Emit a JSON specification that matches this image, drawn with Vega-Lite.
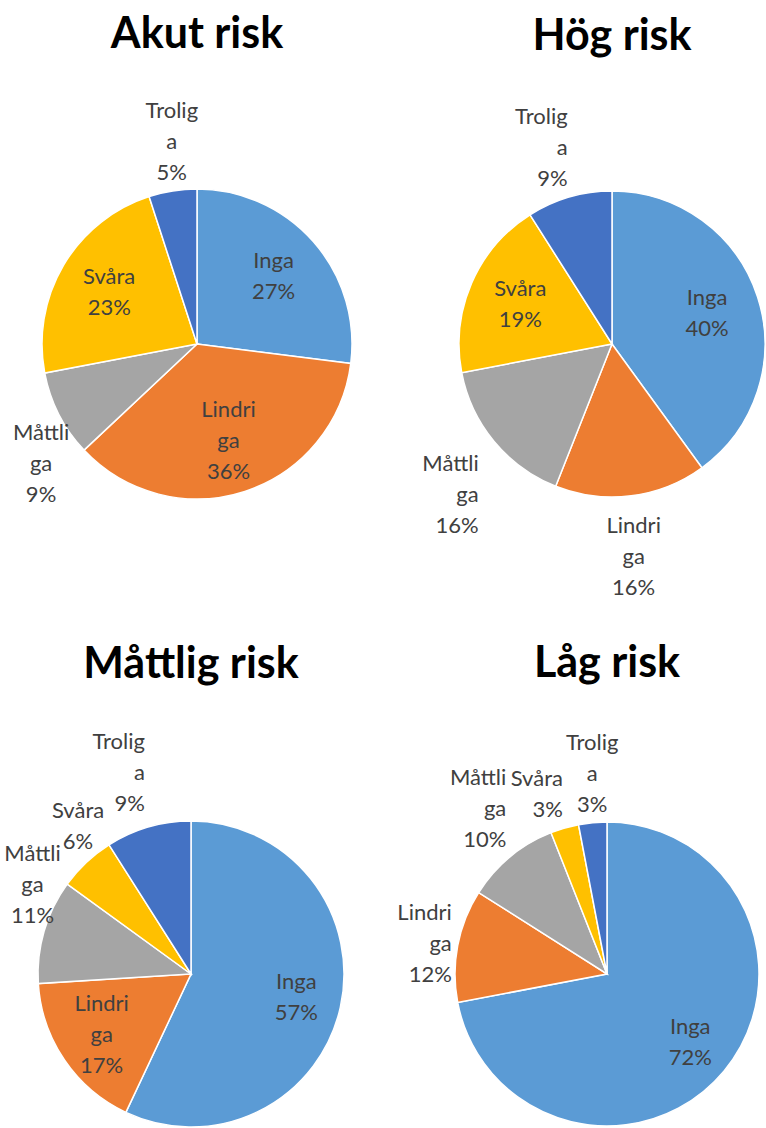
{
  "$schema": "https://vega.github.io/schema/vega-lite/v6.json",
  "background": "white",
  "padding": {"top": 13, "left": 0, "right": 0, "bottom": 0},
  "config": {
    "view": {"stroke": null},
    "font": "Lato",
    "title": {"font": "Lato", "fontSize": 43, "fontWeight": "bold", "color": "#000000", "anchor": "middle", "baseline": "alphabetic", "frame": "group"},
    "text": {"font": "Lato", "fontSize": 22, "lineHeight": 31, "color": "#404040", "lineBreak": "\n"},
    "arc": {"stroke": "#ffffff", "strokeWidth": 1.5}
  },
  "data": {
    "values": [
      {"panel": "Akut risk", "category": "Inga", "value": 27},
      {"panel": "Akut risk", "category": "Lindriga", "value": 36},
      {"panel": "Akut risk", "category": "Måttliga", "value": 9},
      {"panel": "Akut risk", "category": "Svåra", "value": 23},
      {"panel": "Akut risk", "category": "Troliga", "value": 5},
      {"panel": "Hög risk", "category": "Inga", "value": 40},
      {"panel": "Hög risk", "category": "Lindriga", "value": 16},
      {"panel": "Hög risk", "category": "Måttliga", "value": 16},
      {"panel": "Hög risk", "category": "Svåra", "value": 19},
      {"panel": "Hög risk", "category": "Troliga", "value": 9},
      {"panel": "Måttlig risk", "category": "Inga", "value": 57},
      {"panel": "Måttlig risk", "category": "Lindriga", "value": 17},
      {"panel": "Måttlig risk", "category": "Måttliga", "value": 11},
      {"panel": "Måttlig risk", "category": "Svåra", "value": 6},
      {"panel": "Måttlig risk", "category": "Troliga", "value": 9},
      {"panel": "Låg risk", "category": "Inga", "value": 72},
      {"panel": "Låg risk", "category": "Lindriga", "value": 12},
      {"panel": "Låg risk", "category": "Måttliga", "value": 10},
      {"panel": "Låg risk", "category": "Svåra", "value": 3},
      {"panel": "Låg risk", "category": "Troliga", "value": 3}
    ]
  },
  "bounds": "flush",
  "spacing": 632,
  "vconcat": [
    {
      "bounds": "flush",
      "spacing": 65,
      "hconcat": [
        {
          "width": 394, "height": 310,
          "title": {"text": "Akut risk", "offset": 43},
          "transform": [
            {"filter": "datum.panel === 'Akut risk'"},
            {"stack": "value", "groupby": ["panel"], "sort": [{"field": "category", "order": "ascending"}], "as": ["v0", "v1"]},
            {"calculate": "(datum.v0 + datum.v1) / 2", "as": "mid"},
            {"calculate": "2 * PI * datum.mid / 100", "as": "angle"},
            {"calculate": "datum.category === 'Inga' || datum.category === 'Svåra' ? 2 : 3", "as": "nlines"},
            {"calculate": "(datum.nlines === 2 ? datum.category : slice(datum.category, 0, 6) + '\\n' + slice(datum.category, 6)) + '\\n' + datum.value + '%'", "as": "label"}
          ],
          "layer": [
            {
              "mark": {"type": "arc", "outerRadius": 155},
              "encoding": {
                "theta": {"field": "v0", "type": "quantitative", "stack": null, "scale": {"domain": [0, 100]}},
                "theta2": {"field": "v1"},
                "color": {"field": "category", "type": "nominal", "legend": null,
                  "scale": {"domain": ["Inga", "Lindriga", "Måttliga", "Svåra", "Troliga"], "range": ["#5B9BD5", "#ED7D31", "#A5A5A5", "#FFC000", "#4472C4"]}}
              }
            },
            {
              "transform": [{"filter": "datum.value >= 17"}],
              "mark": {"type": "text", "radius": 102, "dy": {"expr": "-(datum.nlines - 1) * 31 / 2"}},
              "encoding": {
                "theta": {"field": "mid", "type": "quantitative", "stack": null, "scale": {"domain": [0, 100]}},
                "text": {"field": "label", "type": "nominal"}
              }
            },
            {
              "transform": [{"filter": "datum.value < 17 && cos(datum.angle) >= -0.25"}],
              "mark": {"type": "text", "radius": 161,
                "baseline": {"expr": "cos(datum.angle) > 0.25 ? 'bottom' : 'middle'"},
                "dy": {"expr": "cos(datum.angle) > 0.25 ? -(datum.nlines - 1) * 31 : -(datum.nlines - 1) * 31 / 2"},
                "align": {"expr": "cos(datum.angle) <= 0.25 ? (sin(datum.angle) < 0 ? 'right' : 'left') : (sin(datum.angle) < -0.2 && sin(datum.angle) > -0.66) ? 'right' : (sin(datum.angle) > 0.2 && sin(datum.angle) < 0.66) ? 'left' : 'center'"}},
              "encoding": {
                "theta": {"field": "mid", "type": "quantitative", "stack": null, "scale": {"domain": [0, 100]}},
                "text": {"field": "label", "type": "nominal"}
              }
            },
            {
              "transform": [{"filter": "datum.value < 17 && cos(datum.angle) < -0.25"}],
              "mark": {"type": "text", "radius": 175, "baseline": "top",
                "align": {"expr": "(sin(datum.angle) < -0.2 && sin(datum.angle) > -0.8) ? 'right' : (sin(datum.angle) > 0.2 && sin(datum.angle) < 0.8) ? 'left' : 'center'"}},
              "encoding": {
                "theta": {"field": "mid", "type": "quantitative", "stack": null, "scale": {"domain": [0, 100]}},
                "text": {"field": "label", "type": "nominal"}
              }
            }
          ]
        },
        {
          "width": 306, "height": 310,
          "title": {"text": "Hög risk", "offset": 47},
          "transform": [
            {"filter": "datum.panel === 'Hög risk'"},
            {"stack": "value", "groupby": ["panel"], "sort": [{"field": "category", "order": "ascending"}], "as": ["v0", "v1"]},
            {"calculate": "(datum.v0 + datum.v1) / 2", "as": "mid"},
            {"calculate": "2 * PI * datum.mid / 100", "as": "angle"},
            {"calculate": "datum.category === 'Inga' || datum.category === 'Svåra' ? 2 : 3", "as": "nlines"},
            {"calculate": "(datum.nlines === 2 ? datum.category : slice(datum.category, 0, 6) + '\\n' + slice(datum.category, 6)) + '\\n' + datum.value + '%'", "as": "label"}
          ],
          "layer": [
            {
              "mark": {"type": "arc", "outerRadius": 153},
              "encoding": {
                "theta": {"field": "v0", "type": "quantitative", "stack": null, "scale": {"domain": [0, 100]}},
                "theta2": {"field": "v1"},
                "color": {"field": "category", "type": "nominal", "legend": null,
                  "scale": {"domain": ["Inga", "Lindriga", "Måttliga", "Svåra", "Troliga"], "range": ["#5B9BD5", "#ED7D31", "#A5A5A5", "#FFC000", "#4472C4"]}}
              }
            },
            {
              "transform": [{"filter": "datum.value >= 17"}],
              "mark": {"type": "text", "radius": 100, "dy": {"expr": "-(datum.nlines - 1) * 31 / 2"}},
              "encoding": {
                "theta": {"field": "mid", "type": "quantitative", "stack": null, "scale": {"domain": [0, 100]}},
                "text": {"field": "label", "type": "nominal"}
              }
            },
            {
              "transform": [{"filter": "datum.value < 17 && cos(datum.angle) >= -0.25"}],
              "mark": {"type": "text", "radius": 159,
                "baseline": {"expr": "cos(datum.angle) > 0.25 ? 'bottom' : 'middle'"},
                "dy": {"expr": "cos(datum.angle) > 0.25 ? -(datum.nlines - 1) * 31 : -(datum.nlines - 1) * 31 / 2"},
                "align": {"expr": "cos(datum.angle) <= 0.25 ? (sin(datum.angle) < 0 ? 'right' : 'left') : (sin(datum.angle) < -0.2 && sin(datum.angle) > -0.66) ? 'right' : (sin(datum.angle) > 0.2 && sin(datum.angle) < 0.66) ? 'left' : 'center'"}},
              "encoding": {
                "theta": {"field": "mid", "type": "quantitative", "stack": null, "scale": {"domain": [0, 100]}},
                "text": {"field": "label", "type": "nominal"}
              }
            },
            {
              "transform": [{"filter": "datum.value < 17 && cos(datum.angle) < -0.25"}],
              "mark": {"type": "text", "radius": 173, "baseline": "top",
                "align": {"expr": "(sin(datum.angle) < -0.2 && sin(datum.angle) > -0.8) ? 'right' : (sin(datum.angle) > 0.2 && sin(datum.angle) < 0.8) ? 'left' : 'center'"}},
              "encoding": {
                "theta": {"field": "mid", "type": "quantitative", "stack": null, "scale": {"domain": [0, 100]}},
                "text": {"field": "label", "type": "nominal"}
              }
            }
          ]
        }
      ]
    },
    {
      "bounds": "flush",
      "spacing": 72,
      "hconcat": [
        {
          "width": 382, "height": 306,
          "title": {"text": "Måttlig risk", "offset": 44},
          "transform": [
            {"filter": "datum.panel === 'Måttlig risk'"},
            {"stack": "value", "groupby": ["panel"], "sort": [{"field": "category", "order": "ascending"}], "as": ["v0", "v1"]},
            {"calculate": "(datum.v0 + datum.v1) / 2", "as": "mid"},
            {"calculate": "2 * PI * datum.mid / 100", "as": "angle"},
            {"calculate": "datum.category === 'Inga' || datum.category === 'Svåra' ? 2 : 3", "as": "nlines"},
            {"calculate": "(datum.nlines === 2 ? datum.category : slice(datum.category, 0, 6) + '\\n' + slice(datum.category, 6)) + '\\n' + datum.value + '%'", "as": "label"}
          ],
          "layer": [
            {
              "mark": {"type": "arc", "outerRadius": 153},
              "encoding": {
                "theta": {"field": "v0", "type": "quantitative", "stack": null, "scale": {"domain": [0, 100]}},
                "theta2": {"field": "v1"},
                "color": {"field": "category", "type": "nominal", "legend": null,
                  "scale": {"domain": ["Inga", "Lindriga", "Måttliga", "Svåra", "Troliga"], "range": ["#5B9BD5", "#ED7D31", "#A5A5A5", "#FFC000", "#4472C4"]}}
              }
            },
            {
              "transform": [{"filter": "datum.value >= 17"}],
              "mark": {"type": "text", "radius": 108, "dy": {"expr": "-(datum.nlines - 1) * 31 / 2"}},
              "encoding": {
                "theta": {"field": "mid", "type": "quantitative", "stack": null, "scale": {"domain": [0, 100]}},
                "text": {"field": "label", "type": "nominal"}
              }
            },
            {
              "transform": [{"filter": "datum.value < 17 && cos(datum.angle) >= -0.25"}],
              "mark": {"type": "text", "radius": 165,
                "baseline": {"expr": "cos(datum.angle) > 0.25 ? 'bottom' : 'middle'"},
                "dy": {"expr": "cos(datum.angle) > 0.25 ? -(datum.nlines - 1) * 31 : -(datum.nlines - 1) * 31 / 2"},
                "align": {"expr": "cos(datum.angle) <= 0.25 ? (sin(datum.angle) < 0 ? 'right' : 'left') : (sin(datum.angle) < -0.2 && sin(datum.angle) > -0.66) ? 'right' : (sin(datum.angle) > 0.2 && sin(datum.angle) < 0.66) ? 'left' : 'center'"}},
              "encoding": {
                "theta": {"field": "mid", "type": "quantitative", "stack": null, "scale": {"domain": [0, 100]}},
                "text": {"field": "label", "type": "nominal"}
              }
            },
            {
              "transform": [{"filter": "datum.value < 17 && cos(datum.angle) < -0.25"}],
              "mark": {"type": "text", "radius": 173, "baseline": "top",
                "align": {"expr": "(sin(datum.angle) < -0.2 && sin(datum.angle) > -0.8) ? 'right' : (sin(datum.angle) > 0.2 && sin(datum.angle) < 0.8) ? 'left' : 'center'"}},
              "encoding": {
                "theta": {"field": "mid", "type": "quantitative", "stack": null, "scale": {"domain": [0, 100]}},
                "text": {"field": "label", "type": "nominal"}
              }
            }
          ]
        },
        {
          "width": 306, "height": 306,
          "title": {"text": "Låg risk", "offset": 46},
          "transform": [
            {"filter": "datum.panel === 'Låg risk'"},
            {"stack": "value", "groupby": ["panel"], "sort": [{"field": "category", "order": "ascending"}], "as": ["v0", "v1"]},
            {"calculate": "(datum.v0 + datum.v1) / 2", "as": "mid"},
            {"calculate": "2 * PI * datum.mid / 100", "as": "angle"},
            {"calculate": "datum.category === 'Inga' || datum.category === 'Svåra' ? 2 : 3", "as": "nlines"},
            {"calculate": "(datum.nlines === 2 ? datum.category : slice(datum.category, 0, 6) + '\\n' + slice(datum.category, 6)) + '\\n' + datum.value + '%'", "as": "label"}
          ],
          "layer": [
            {
              "mark": {"type": "arc", "outerRadius": 152},
              "encoding": {
                "theta": {"field": "v0", "type": "quantitative", "stack": null, "scale": {"domain": [0, 100]}},
                "theta2": {"field": "v1"},
                "color": {"field": "category", "type": "nominal", "legend": null,
                  "scale": {"domain": ["Inga", "Lindriga", "Måttliga", "Svåra", "Troliga"], "range": ["#5B9BD5", "#ED7D31", "#A5A5A5", "#FFC000", "#4472C4"]}}
              }
            },
            {
              "transform": [{"filter": "datum.value >= 17"}],
              "mark": {"type": "text", "radius": 108, "dy": {"expr": "-(datum.nlines - 1) * 31 / 2"}},
              "encoding": {
                "theta": {"field": "mid", "type": "quantitative", "stack": null, "scale": {"domain": [0, 100]}},
                "text": {"field": "label", "type": "nominal"}
              }
            },
            {
              "transform": [{"filter": "datum.value < 17 && cos(datum.angle) >= -0.25"}],
              "mark": {"type": "text", "radius": 158,
                "baseline": {"expr": "cos(datum.angle) > 0.25 ? 'bottom' : 'middle'"},
                "dy": {"expr": "cos(datum.angle) > 0.25 ? -(datum.nlines - 1) * 31 : -(datum.nlines - 1) * 31 / 2"},
                "align": {"expr": "cos(datum.angle) <= 0.25 ? (sin(datum.angle) < 0 ? 'right' : 'left') : (sin(datum.angle) < -0.2 && sin(datum.angle) > -0.66) ? 'right' : (sin(datum.angle) > 0.2 && sin(datum.angle) < 0.66) ? 'left' : 'center'"}},
              "encoding": {
                "theta": {"field": "mid", "type": "quantitative", "stack": null, "scale": {"domain": [0, 100]}},
                "text": {"field": "label", "type": "nominal"}
              }
            },
            {
              "transform": [{"filter": "datum.value < 17 && cos(datum.angle) < -0.25"}],
              "mark": {"type": "text", "radius": 172, "baseline": "top",
                "align": {"expr": "(sin(datum.angle) < -0.2 && sin(datum.angle) > -0.8) ? 'right' : (sin(datum.angle) > 0.2 && sin(datum.angle) < 0.8) ? 'left' : 'center'"}},
              "encoding": {
                "theta": {"field": "mid", "type": "quantitative", "stack": null, "scale": {"domain": [0, 100]}},
                "text": {"field": "label", "type": "nominal"}
              }
            }
          ]
        }
      ]
    }
  ]
}
